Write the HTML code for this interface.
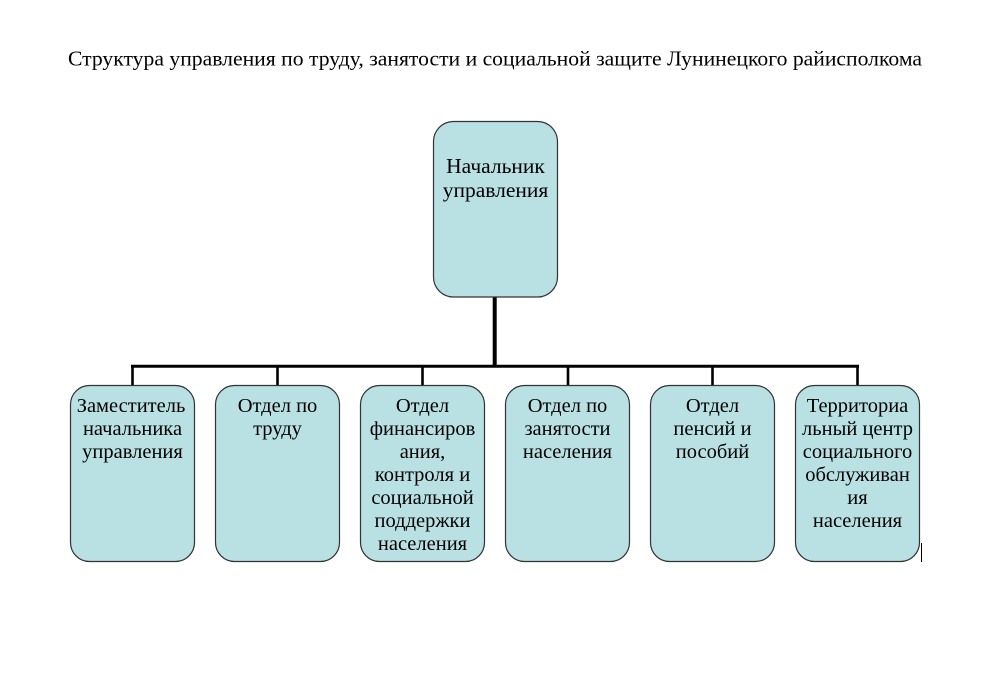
<!DOCTYPE html>
<html>
<head>
<meta charset="utf-8">
<style>
html,body{margin:0;padding:0;background:#fff;}
svg{display:block;}
text{font-family:"Liberation Serif","Times New Roman",serif;fill:#000;}
</style>
</head>
<body>
<svg width="989" height="688" viewBox="0 0 989 688" xmlns="http://www.w3.org/2000/svg">
<rect width="989" height="688" fill="#fff"/>
<text x="68" y="65.5" font-size="21" textLength="854" lengthAdjust="spacingAndGlyphs">Структура управления по труду, занятости и социальной защите Лунинецкого райисполкома</text>

<!-- connectors -->
<line x1="494.7" y1="297" x2="494.7" y2="366" stroke="#000" stroke-width="4"/>
<line x1="131" y1="366.2" x2="859" y2="366.2" stroke="#000" stroke-width="3"/>
<g stroke="#000" stroke-width="2.6">
<line x1="132.5" y1="366" x2="132.5" y2="386"/>
<line x1="277.5" y1="366" x2="277.5" y2="386"/>
<line x1="422.5" y1="366" x2="422.5" y2="386"/>
<line x1="568" y1="366" x2="568" y2="386"/>
<line x1="712.5" y1="366" x2="712.5" y2="386"/>
<line x1="857.5" y1="366" x2="857.5" y2="386"/>
</g>

<!-- main box -->
<rect x="433.5" y="121.5" width="124" height="175.5" rx="20" ry="20" fill="#B9E0E3" stroke="#333" stroke-width="1.2"/>
<g font-size="21.5" text-anchor="middle">
<text x="495.5" y="173">Начальник</text>
<text x="495.5" y="197">управления</text>
</g>

<!-- child boxes -->
<g fill="#B9E0E3" stroke="#333" stroke-width="1.2">
<rect x="70.5" y="385.5" width="124" height="176" rx="19" ry="19"/>
<rect x="215.5" y="385.5" width="124" height="176" rx="19" ry="19"/>
<rect x="360.5" y="385.5" width="124" height="176" rx="19" ry="19"/>
<rect x="505.5" y="385.5" width="124" height="176" rx="19" ry="19"/>
<rect x="650.5" y="385.5" width="124" height="176" rx="19" ry="19"/>
<rect x="795.5" y="385.5" width="124" height="176" rx="19" ry="19"/>
</g>

<g font-size="20.5" text-anchor="middle">
<text x="131" y="412">Заместитель</text>
<text x="132.5" y="435">начальника</text>
<text x="132.5" y="458">управления</text>

<text x="277.5" y="412">Отдел по</text>
<text x="277.5" y="435">труду</text>

<text x="422.5" y="412">Отдел</text>
<text x="422.5" y="435">финансиров</text>
<text x="422.5" y="458">ания,</text>
<text x="422.5" y="481">контроля и</text>
<text x="422.5" y="504">социальной</text>
<text x="422.5" y="527">поддержки</text>
<text x="422.5" y="550">населения</text>

<text x="567.5" y="412">Отдел по</text>
<text x="567.5" y="435">занятости</text>
<text x="567.5" y="458">населения</text>

<text x="712.5" y="412">Отдел</text>
<text x="712.5" y="435">пенсий и</text>
<text x="712.5" y="458">пособий</text>

<text x="857.5" y="412">Территориа</text>
<text x="857.5" y="435">льный центр</text>
<text x="857.5" y="458">социального</text>
<text x="857.5" y="481">обслуживан</text>
<text x="857.5" y="504">ия</text>
<text x="857.5" y="527">населения</text>
</g>

<!-- small caret mark -->
<line x1="921.5" y1="543" x2="921.5" y2="562" stroke="#000" stroke-width="1"/>
</svg>
</body>
</html>
